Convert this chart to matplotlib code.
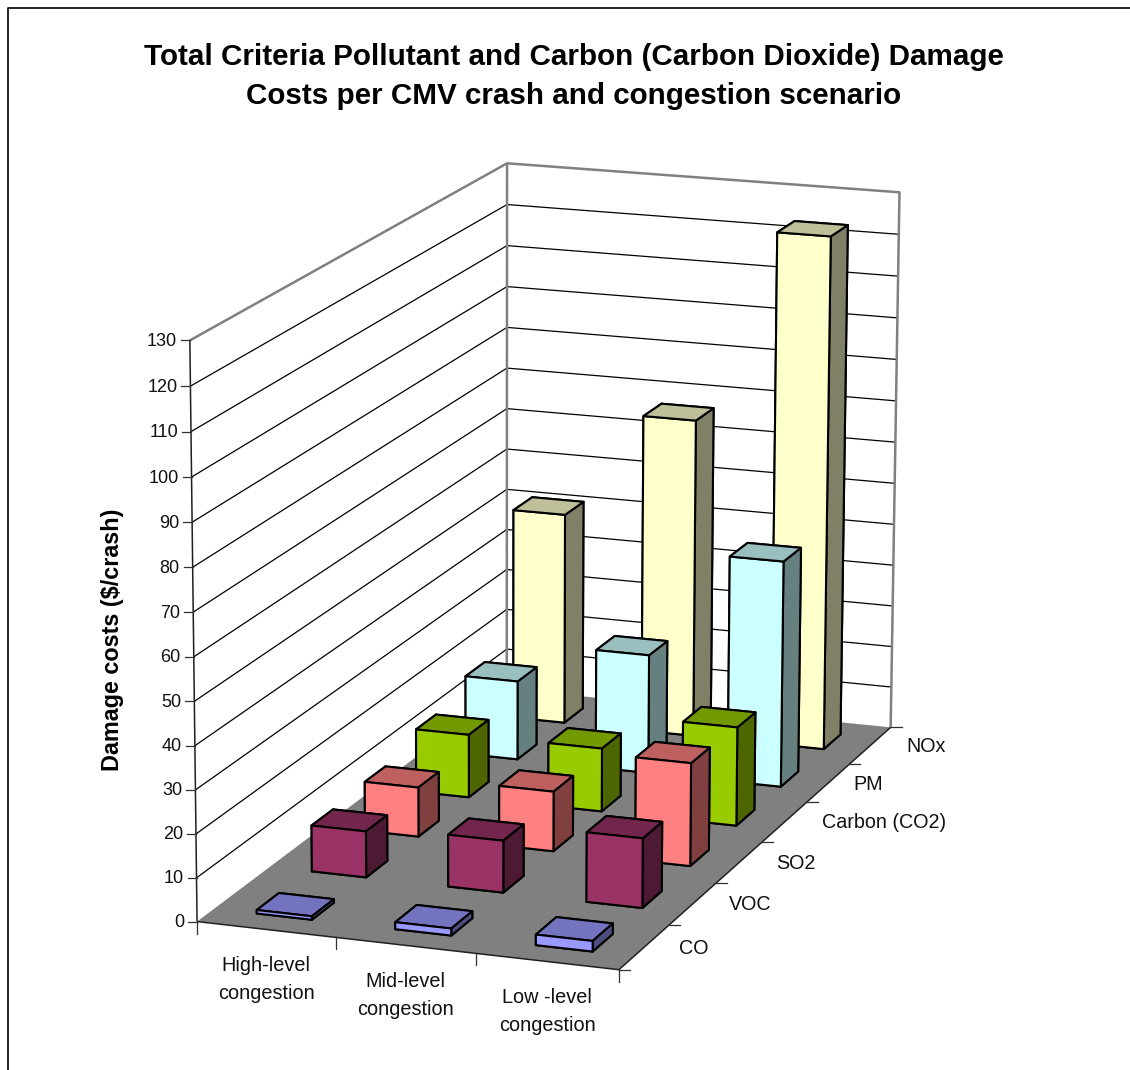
import matplotlib
matplotlib.use("Agg")
import matplotlib.pyplot as plt
from matplotlib.lines import Line2D
from matplotlib.colors import to_rgb
from mpl_toolkits.mplot3d.art3d import Poly3DCollection, Line3DCollection
import numpy as np

plt.rcParams['font.family'] = ['Liberation Sans', 'DejaVu Sans']

# Chart data

categories = ["High-level\ncongestion", "Mid-level\ncongestion", "Low -level\ncongestion"]
series = ["CO", "VOC", "SO2", "Carbon (CO2)", "PM", "NOx"]

co = [0.8, 1.6, 2.4]
voc = [10.7, 12, 16]
so2 = [11.6, 14, 24]
carbon = [15, 15, 23.3]
pm = [19, 28.5, 54]
nox = [51.3, 77, 123.5]

values = [co, voc, so2, carbon, pm, nox]
colors = ["#9999FF", "#993366", "#FF8080", "#99CC00", "#CCFFFF", "#FFFFCC"]

z_ticks = list(range(0, 140, 10))
z_max = 130

W, H = 1130, 1070

# Calibration of the Excel style perspective: (category, series, value) -> pixel

world = np.array([
    [0, 0, 0], [3, 0, 0], [3, 6, 0], [0, 6, 0],
    [0, 0, z_max], [3, 6, z_max], [0, 6, z_max],
], dtype=float)
pixels = np.array([
    [198.5, 921.7], [618.3, 970.0], [891.7, 726.7], [505.0, 689.0],
    [189.0, 340.0], [899.0, 192.7], [508.3, 163.3],
])

rows = []
for (a, b, c), (u, v) in zip(world, pixels):
    rows.append([a, b, c, 1, 0, 0, 0, 0, -u * a, -u * b, -u * c, -u])
    rows.append([0, 0, 0, 0, a, b, c, 1, -v * a, -v * b, -v * c, -v])
P = np.linalg.svd(np.array(rows))[2][-1].reshape(3, 4)
P = P / P[2, 3]


def to_px(x, y, z):
    u, v, w = P @ np.array([x, y, z, 1.0])
    return u / w, v / w


fig = plt.figure(figsize=(W / 100, H / 100), dpi=100)
ax = fig.add_axes([0, 0, 1, 1], projection="3d", computed_zorder=False)


def get_proj():
    # pixels -> the 2d limits of this axes, depth row keeps far faces painted first
    lim = ax.viewLim
    sx = np.array([lim.width / W, 0, lim.x0])
    sy = np.array([0, -lim.height / H, lim.y1])
    return np.array([
        sx @ P,
        sy @ P,
        P[2] - np.array([0, 0, 0, 0.5]),
        P[2],
    ])


ax.get_proj = get_proj
ax.apply_aspect = lambda position=None: None
ax.set_axis_off()
ax.patch.set_visible(False)

# Walls and gridlines

GRAY = "#808080"
grid = [[(0, 0, z), (0, 6, z), (3, 6, z)] for z in z_ticks[1:-1]]
ax.add_collection3d(Line3DCollection(grid, colors="black", linewidths=0.9, zorder=2), autolim=False)
outline = [[(0, 0, z_max), (0, 6, z_max), (3, 6, z_max), (3, 6, 0)], [(0, 6, 0), (0, 6, z_max)]]
ax.add_collection3d(Line3DCollection(outline, colors=GRAY, linewidths=1.8, zorder=2), autolim=False)

# Floor

floor = Poly3DCollection([[(0, 0, 0), (3, 0, 0), (3, 6, 0), (0, 6, 0)]],
                         facecolors=GRAY, edgecolors="none", zorder=3)
ax.add_collection3d(floor, autolim=False)
edges = [[(0, 0, 0), (3, 0, 0), (3, 6, 0)], [(0, 0, 0), (0, 0, z_max)]]
ax.add_collection3d(Line3DCollection(edges, colors="#202020", linewidths=1.1, zorder=4), autolim=False)

# Bars, back row first so nearer ones paint over

bar_w = 0.4
order = 5
for j in range(len(series) - 1, -1, -1):
    base = np.array(to_rgb(colors[j]))
    faces = [base * 0.5, base * 0.75, base, base * 0.5, base * 0.5, base * 0.5]
    for i in range(len(categories)):
        ax.bar3d(i + 0.51 - bar_w / 2, j + 0.5 - bar_w / 2, 0, bar_w, bar_w, values[j][i],
                 color=faces, edgecolor="black", linewidth=1.5, shade=False, zorder=order)
        order += 1


def line_px(xs, ys, color="#303030", lw=0.9):
    fig.add_artist(Line2D(np.array(xs) / W, 1 - np.array(ys) / H, color=color, lw=lw, zorder=20))


def text_px(x, y, s, color="#111111", **kw):
    fig.text(x / W, 1 - y / H, s, zorder=21, color=color, **kw)


# Ticks and labels

for z in z_ticks:
    u, v = to_px(0, 0, z)
    line_px([u - 9, u], [v, v])
    text_px(u - 13, v + 1, str(z), ha="right", va="center", fontsize=13)

for i in range(len(categories) + 1):
    u, v = to_px(i, 0, 0)
    line_px([u, u], [v, v + 12])

for i, name in enumerate(categories):
    u, v = to_px(i + 0.5, 0, 0)
    text_px(u, v + 50, name, ha="center", va="center", fontsize=14.3, linespacing=1.58)

for j in range(len(series) + 1):
    u, v = to_px(3, j, 0)
    line_px([u, u + 11], [v, v])

series_dx = [35, 36, 37, 37, 25, 36]
for j, name in enumerate(series):
    u, v = to_px(3, j + 0.5, 0)
    text_px(u + series_dx[j], v + 1, name, ha="left", va="center", fontsize=14.2)

# Titles

text_px(574, 57, "Total Criteria Pollutant and Carbon (Carbon Dioxide) Damage",
        ha="center", va="center", fontsize=21.3, fontweight="bold", color="black")
text_px(574, 96, "Costs per CMV crash and congestion scenario",
        ha="center", va="center", fontsize=21.3, fontweight="bold", color="black")
text_px(113, 640, "Damage costs ($/crash)", ha="center", va="center", rotation=90,
        fontsize=16.8, fontweight="bold", color="black")

# Chart frame

line_px([8, 8, W], [H, 7.5, 7.5], color="black", lw=1.2)

fig.savefig("out.png", dpi=100)
